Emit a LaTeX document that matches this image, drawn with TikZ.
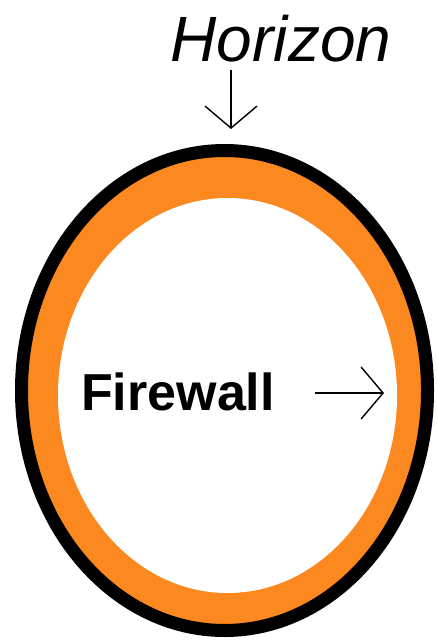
\documentclass[tikz,border=0pt]{standalone}
\usepackage{fontspec}
\setmainfont{Liberation Sans}
\usetikzlibrary{arrows.meta}
\definecolor{ringorange}{RGB}{252,136,32}
\tikzset{
  pointer/.style={line width=1.4pt, -{Straight Barb[length=22pt, width=52pt, line width=1.4pt]}},
  label/.style={inner sep=0pt, text=black}
}
\begin{document}
\begin{tikzpicture}[x=1pt, y=-1pt]
  \useasboundingbox (0,0) rectangle (436,644);
  % orange band between the two ellipses
  \fill[ringorange] (224.5,390.5) ellipse [x radius=207pt, y radius=244pt];
  \fill[white] (227.5,395.5) ellipse [x radius=169.5pt, y radius=197.5pt];
  % black outer rim
  \draw[line width=13pt] (224.5,390.5) ellipse [x radius=203pt, y radius=240pt];
  % labels
  \node[label, anchor=base, font=\itshape\fontsize{64}{64}\selectfont] (horizon) at (281,62) {Horizon};
  \node[label, anchor=base, font=\bfseries\fontsize{52}{52}\selectfont] (firewall) at (178,410) {Firewall};
  % arrows
  \coordinate (hstart) at (231,70);
  \coordinate (hend) at (231,129);
  \coordinate (fstart) at (315,393);
  \coordinate (fend) at (384,393);
  \draw[pointer] (hstart) -- (hend);
  \draw[pointer] (fstart) -- (fend);
\end{tikzpicture}
\end{document}
